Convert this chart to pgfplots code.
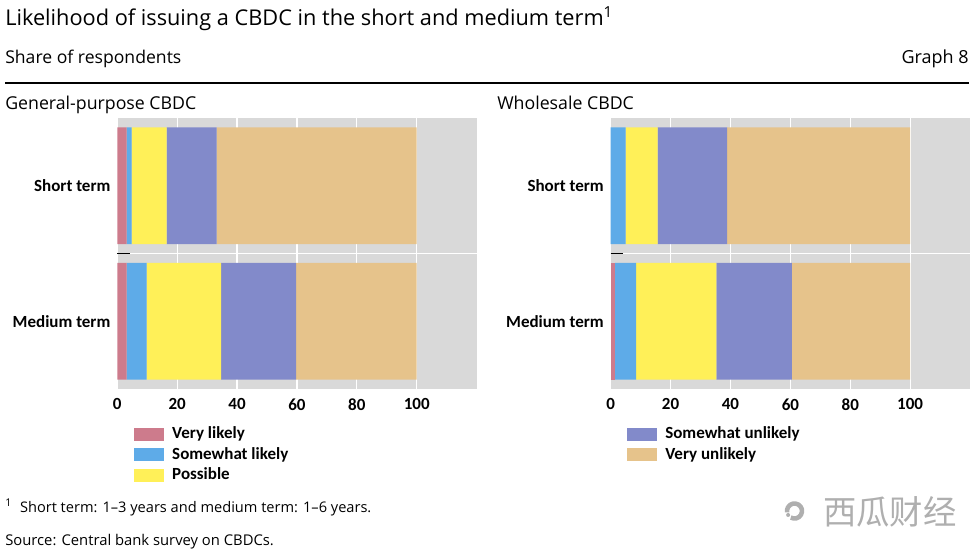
\documentclass[border=0pt]{standalone}
\usepackage{fontspec}
\setmainfont{Open Sans}
\newfontfamily\lab{Carlito}
\newfontfamily\cjk{Noto Sans CJK SC}
\usepackage{pgfplots}
\usepackage{pgfplotstable}
\pgfplotsset{compat=1.18}
\definecolor{cvl}{RGB}{205,123,140}
\definecolor{csl}{RGB}{94,171,232}
\definecolor{cpo}{RGB}{255,240,88}
\definecolor{csu}{RGB}{130,138,202}
\definecolor{cvu}{RGB}{230,195,139}
\definecolor{cbg}{RGB}{217,217,217}
\definecolor{wm}{RGB}{175,175,175}

\pgfplotstableread{
cat vl sl po su vu
0 3.1 6.7 24.9 25.0 40.3
1 3.1 1.7 11.7 16.7 66.8
}\gp
\pgfplotstableread{
cat vl sl po su vu
0 1.5 7.0 26.8 25.2 39.5
1 0.0 5.0 10.7 23.2 61.1
}\wh

\newcommand\fs[1]{\fontsize{#1}{#1}\selectfont}

\pgfplotsset{
  panel/.style={
    xbar stacked,
    scale only axis,
    width=269.5pt, height=203.25pt,
    xmin=0, xmax=120, ymin=-0.5, ymax=1.5,
    bar width=0.86,
    axis background/.style={fill=cbg},
    axis line style={draw=none},
    xtick={0,20,40,60,80,100},
    xmajorgrids,
    major grid style={white, line width=0.9pt},
    ytick={0,1},
    yticklabels={Medium term, Short term},
    tick pos=left,
    major tick length=0pt,
    extra y ticks={0.5},
    extra y tick labels={},
    extra y tick style={
      ymajorgrids, xmajorgrids=false,
      major tick length=9.5pt, tick align=inside,
      tick style={black, line width=1.1pt},
      major grid style={white, line width=1.2pt}},
    tick label style={font=\lab\bfseries\fs{12.75}},
    /pgf/number format/assume math mode=true,
    xticklabel style={inner sep=0pt, yshift=-7pt},
    yticklabel style={inner sep=0pt, xshift=-5pt},
    legend cell align=left,
    legend style={draw=none, fill=none, inner sep=0pt, row sep=4pt,
      font=\lab\bfseries\fs{12.75},
      nodes={inner sep=0pt, text height=9pt, text depth=2.5pt},
      /tikz/every odd column/.style={column sep=6pt}},
    legend image code/.code={\fill[##1] (0pt,-4.9pt) rectangle (22.5pt,4.9pt);},
  },
  svl/.style={fill=cvl, draw=none},
  ssl/.style={fill=csl, draw=none},
  spo/.style={fill=cpo, draw=none},
  ssu/.style={fill=csu, draw=none},
  svu/.style={fill=cvu, draw=none},
}

\begin{document}
\begin{tikzpicture}
% left panel
\begin{axis}[panel, at={(87.975pt,-88.5pt)}, anchor=north west,
  legend style={at={(12.5pt,-28pt)}, anchor=north west}]
\addlegendimage{svl}\addlegendentry{Very likely}
\addlegendimage{ssl}\addlegendentry{Somewhat likely}
\addlegendimage{spo}\addlegendentry{Possible}
\addplot[svl] table[x=vl, y=cat] {\gp};
\addplot[ssl] table[x=sl, y=cat] {\gp};
\addplot[spo] table[x=po, y=cat] {\gp};
\addplot[ssu] table[x=su, y=cat] {\gp};
\addplot[svu] table[x=vu, y=cat] {\gp};
\end{axis}
% right panel
\begin{axis}[panel, at={(458.025pt,-88.5pt)}, anchor=north west,
  legend style={at={(12.25pt,-28pt)}, anchor=north west}]
\addlegendimage{ssu}\addlegendentry{Somewhat unlikely}
\addlegendimage{svu}\addlegendentry{Very unlikely}
\addplot[svl] table[x=vl, y=cat] {\wh};
\addplot[ssl] table[x=sl, y=cat] {\wh};
\addplot[spo] table[x=po, y=cat] {\wh};
\addplot[ssu] table[x=su, y=cat] {\wh};
\addplot[svu] table[x=vu, y=cat] {\wh};
\end{axis}

\begin{scope}[x=0.75pt, y=-0.75pt]
\path[use as bounding box] (0,0) rectangle (974,556);
\node[anchor=base west, inner sep=0pt, font=\fs{16.3}] at (5,26) {Likelihood of issuing a CBDC in the short and medium term\textsuperscript{1}};
\node[anchor=base west, inner sep=0pt, font=\fs{13.2}] at (5,64) {Share of respondents};
\node[anchor=base east, inner sep=0pt, font=\fs{13.5}] at (969,64) {Graph 8};
\draw[line width=1.5pt] (5,83) -- (969,83);
\node[anchor=base west, inner sep=0pt, font=\fs{13.3}] at (5,110) {General-purpose CBDC};
\node[anchor=base west, inner sep=0pt, font=\fs{13.3}] at (497,110) {Wholesale CBDC};
\node[anchor=base west, inner sep=0pt, font=\fs{10.95}] at (5,512) {\textsuperscript{1}\hspace{6pt}Short term: 1–3 years and medium term: 1–6 years.};
\node[anchor=base west, inner sep=0pt, font=\fs{11.1}] at (5,545) {Source: Central bank survey on CBDCs.};
% watermark
\draw[wm, line width=3.4pt] (794.5,511) ++(120:7.5) arc[start angle=120, end angle=-190, radius=7.5];
\fill[wm] (794.5,511) ++(148:7.5) circle[radius=2];
\node[anchor=west, inner sep=0pt, text=wm, font=\cjk\fs{25}] at (823,512) {西瓜财经};
\end{scope}
\end{tikzpicture}
\end{document}
